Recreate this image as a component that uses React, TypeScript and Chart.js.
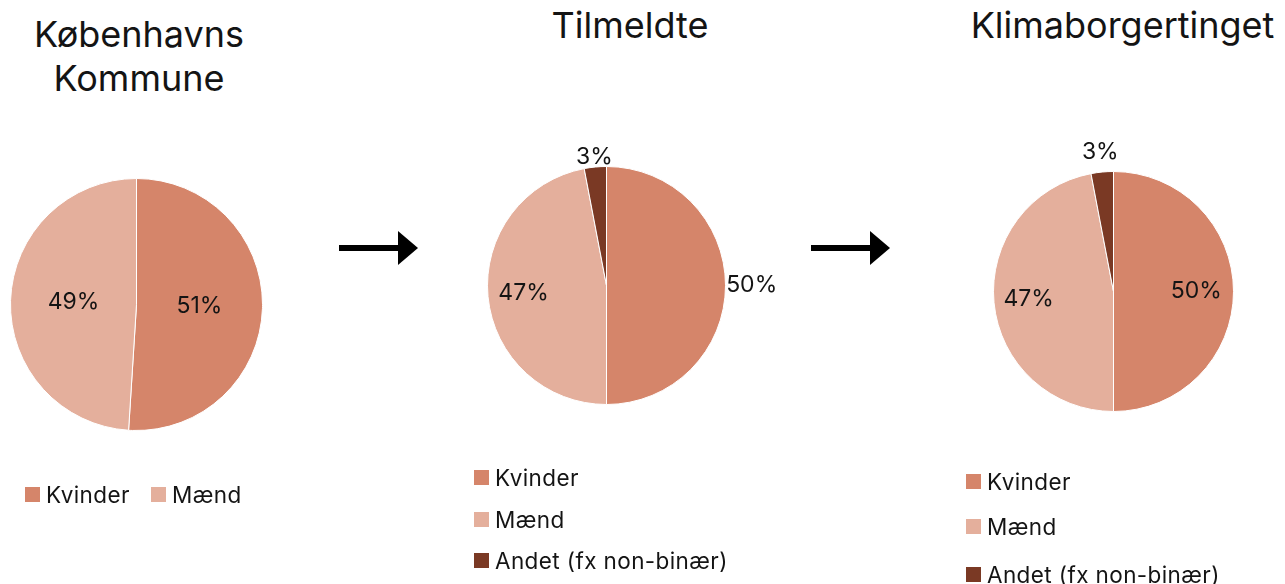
import React, { useEffect, useRef } from "react";
import { Chart, registerables } from "chart.js";

Chart.register(...registerables);

// ---- Data ----
const kkCategories = ["Kvinder", "Mænd"];
const kkValues = [51, 49];

const tilmeldteCategories = ["Kvinder", "Mænd", "Andet (fx non-binær)"];
const tilmeldteValues = [50, 47, 3];

const klimaCategories = ["Kvinder", "Mænd", "Andet (fx non-binær)"];
const klimaValues = [50, 47, 3];

const titles = [["Københavns", "Kommune"], ["Tilmeldte"], ["Klimaborgertinget"]];

// ---- Styles ----
const sliceColors = ["#D5856A", "#E4AF9C", "#7A3924"];
const FONT = "Inter, 'Noto Sans', sans-serif";
const TEXT = "#141414";

type PieSpec = {
  labels: string[];
  values: number[];
  cx: number;
  cy: number;
  r: number;
  labelFactors: number[];
};

const PAD = 60;

const pctLabelPlugin = {
  id: "pctLabels",
  afterDatasetsDraw(chart: any, _args: any, opts: any) {
    const ctx = chart.ctx;
    const meta = chart.getDatasetMeta(0);
    const data = chart.data.datasets[0].data as number[];
    const factors: number[] = opts.factors || [];
    ctx.save();
    ctx.font = `400 23px ${FONT}`;
    ctx.fillStyle = TEXT;
    ctx.textAlign = "center";
    ctx.textBaseline = "middle";
    meta.data.forEach((arc: any, i: number) => {
      const p = arc.getProps(["x", "y", "startAngle", "endAngle", "outerRadius"], true);
      const mid = (p.startAngle + p.endAngle) / 2;
      const rr = p.outerRadius * (factors[i] ?? 0.6);
      ctx.fillText(`${data[i]}%`, p.x + Math.cos(mid) * rr, p.y + Math.sin(mid) * rr);
    });
    ctx.restore();
  },
};

function Pie({ spec }: { spec: PieSpec }) {
  const ref = useRef<HTMLCanvasElement | null>(null);
  const size = Math.round(spec.r * 2 + 1 + PAD * 2);
  useEffect(() => {
    if (!ref.current) return;
    const chart = new Chart(ref.current, {
      type: "pie",
      data: {
        labels: spec.labels,
        datasets: [
          {
            data: spec.values,
            backgroundColor: sliceColors.slice(0, spec.values.length),
            borderColor: "#ffffff",
            borderWidth: 1,
            hoverOffset: 0,
          },
        ],
      },
      options: {
        responsive: false,
        animation: false,
        devicePixelRatio: 1,
        layout: { padding: PAD },
        plugins: {
          legend: { display: false },
          tooltip: { enabled: false },
          title: { display: false },
          pctLabels: { factors: spec.labelFactors },
        } as any,
        events: [],
      },
      plugins: [pctLabelPlugin],
    });
    return () => chart.destroy();
  }, [spec]);
  return (
    <canvas
      ref={ref}
      width={size}
      height={size}
      style={{
        position: "absolute",
        left: spec.cx - spec.r - 0.5 - PAD,
        top: spec.cy - spec.r - 0.5 - PAD,
        width: size,
        height: size,
      }}
    />
  );
}

const pies: PieSpec[] = [
  { labels: kkCategories, values: kkValues, cx: 136.5, cy: 304, r: 126, labelFactors: [0.5, 0.5] },
  { labels: tilmeldteCategories, values: tilmeldteValues, cx: 606, cy: 285.5, r: 119, labelFactors: [1.22, 0.7, 1.08] },
  { labels: klimaCategories, values: klimaValues, cx: 1113.5, cy: 291.5, r: 120, labelFactors: [0.69, 0.71, 1.17] },
];

function LegendItem({ x, cy, color, text }: { x: number; cy: number; color: string; text: string }) {
  return (
    <div
      style={{
        position: "absolute",
        left: x,
        top: cy - 13,
        height: 26,
        display: "flex",
        alignItems: "center",
        whiteSpace: "nowrap",
        fontFamily: FONT,
        fontSize: 22.5,
        letterSpacing: 0.4,
        color: TEXT,
        lineHeight: "26px",
      }}
    >
      <span style={{ display: "inline-block", width: 15, height: 15, background: color, marginRight: 6 }} />
      <span>{text}</span>
    </div>
  );
}

function Arrow({ x0, x1 }: { x0: number; x1: number }) {
  const head = 20;
  return (
    <svg
      style={{ position: "absolute", left: 0, top: 0 }}
      width={1285}
      height={584}
      viewBox="0 0 1285 584"
    >
      <rect x={x0} y={245} width={x1 - head - x0} height={6} fill="#000" />
      <polygon points={`${x1 - head},231 ${x1},248 ${x1 - head},265`} fill="#000" />
    </svg>
  );
}

const titleStyle: React.CSSProperties = {
  position: "absolute",
  fontFamily: FONT,
  fontSize: 36,
  lineHeight: "44px",
  color: TEXT,
  textAlign: "center",
  whiteSpace: "nowrap",
  transform: "translateX(-50%)",
};

export default function App() {
  return (
    <div
      style={{
        position: "absolute",
        left: 0,
        top: 0,
        width: 1285,
        height: 584,
        background: "#ffffff",
        overflow: "hidden",
      }}
    >
      <Arrow x0={339} x1={418} />
      <Arrow x0={811} x1={890} />
      {pies.map((p, i) => (
        <Pie key={i} spec={p} />
      ))}
      <div style={{ ...titleStyle, left: 139, top: 12 }}>
        {titles[0].map((t, i) => (
          <div key={i}>{t}</div>
        ))}
      </div>
      <div style={{ ...titleStyle, left: 630, top: 3 }}>{titles[1][0]}</div>
      <div style={{ ...titleStyle, left: 1122.5, top: 3 }}>{titles[2][0]}</div>

      {kkCategories.map((c, i) => (
        <LegendItem key={c} x={i === 0 ? 25 : 151} cy={494.5} color={sliceColors[i]} text={c} />
      ))}
      {tilmeldteCategories.map((c, i) => (
        <LegendItem key={c} x={474} cy={[477.5, 519.5, 560.5][i]} color={sliceColors[i]} text={c} />
      ))}
      {klimaCategories.map((c, i) => (
        <LegendItem key={c} x={966} cy={[481.5, 526.5, 574.5][i]} color={sliceColors[i]} text={c} />
      ))}
    </div>
  );
}
